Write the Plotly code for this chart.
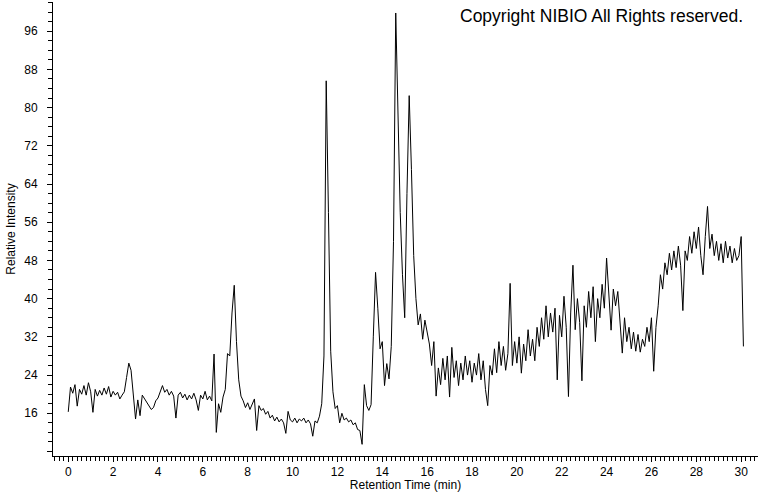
import plotly.graph_objects as go

# Retention time sampling (minutes)
T_START = 0.0
T_STEP = 0.1

# Relative intensity, one row per minute (10 samples each)
intensity = [
    16.3, 21.5, 20.2, 22.0, 17.5, 21.0, 20.0, 21.8, 19.8, 22.4,
    20.5, 16.2, 21.0, 19.6, 20.8, 19.8, 21.3, 20.0, 21.6, 19.4,
    20.6, 19.8, 20.4, 19.0, 19.8, 20.5, 23.5, 26.5, 25.0, 20.0,
    14.8, 18.8, 15.5, 19.8, 19.0, 18.4, 17.6, 16.8, 17.2, 18.6,
    19.2, 20.6, 21.8, 20.4, 21.0, 19.8, 20.6, 19.6, 15.0, 19.8,
    20.4, 19.2, 20.0, 18.8, 19.8, 19.0, 20.2, 18.8, 16.6, 19.8,
    19.0, 20.6, 18.8, 19.6, 18.6, 28.4, 12.0, 18.0, 16.2, 19.4,
    21.0, 28.5, 28.0, 37.0, 42.8, 31.0, 23.0, 19.6, 18.6, 17.2,
    18.2, 16.8, 18.0, 19.0, 12.4, 17.6, 16.6, 17.0, 15.8, 16.4,
    15.0, 15.6, 14.4, 15.2, 14.2, 14.8, 14.0, 11.8, 16.4, 14.6,
    14.2, 15.0, 14.0, 14.8, 14.4, 15.0, 14.0, 14.6, 13.8, 11.2,
    14.4, 14.0, 15.4, 18.0, 28.0, 85.6, 58.0, 29.0, 20.5, 17.0,
    17.6, 14.0, 16.0, 14.6, 15.0, 14.2, 14.6, 13.6, 14.0, 12.6,
    12.4, 9.5, 22.0, 17.6, 16.6, 17.8, 32.0, 45.5, 38.0, 29.5,
    31.0, 21.8, 26.4, 23.2, 30.0, 52.0, 99.8, 79.5, 58.0, 45.0,
    36.0, 62.0, 82.5, 67.0, 49.0, 40.0, 34.5, 36.8, 31.5, 35.5,
    33.0, 30.5, 26.0, 31.0, 19.6, 25.5, 22.0, 27.5, 23.0, 28.0,
    19.4, 29.8, 23.5, 27.0, 21.8, 26.5, 23.0, 28.0, 24.0, 27.0,
    22.5, 26.5, 24.0, 28.5, 23.0, 27.0, 21.0, 17.6, 26.0, 24.0,
    29.5, 24.5, 31.0, 26.0, 30.0, 25.0, 28.5, 43.2, 26.0, 31.0,
    26.5, 32.0, 24.4, 30.5, 27.0, 33.5, 28.0, 31.5, 27.0, 34.0,
    30.0, 36.0, 31.5, 38.5, 32.0, 37.0, 33.0, 38.0, 23.0, 36.5,
    32.0, 40.5, 34.0, 19.5, 37.0, 47.0, 33.5, 40.0, 35.0, 22.8,
    38.5, 34.0, 41.5, 36.0, 42.5, 31.0, 40.0, 36.0, 43.0, 38.0,
    48.5, 41.0, 33.4, 42.0, 38.5, 41.5, 35.0, 28.6, 36.0, 31.0,
    34.0, 29.5, 33.0, 29.0, 32.5, 28.8, 31.5, 30.0, 34.0, 31.0,
    36.0, 24.8, 34.0, 38.5, 45.0, 42.0, 47.5, 45.0, 49.5, 46.0,
    50.0, 46.5, 51.0, 47.0, 37.5, 50.0, 48.0, 53.0, 49.5, 54.0,
    50.5, 55.0, 49.0, 45.0, 53.0, 59.3, 50.5, 53.5, 49.0, 52.0,
    48.0, 51.5, 47.5, 52.0, 48.5, 51.0, 47.5, 50.5, 48.0, 49.0,
    53.0, 30.0,
]

# Axis tick settings (label every 2 min / 8 units, minor every 0.2 min / 2 units)
x_tick_start, x_tick_step, x_minor_step = 0, 2, 0.2
y_tick_start, y_tick_step, y_minor_step = 0, 8, 2
y_hidden_labels = {"8": ""}  # the reference leaves the lowest major tick unlabelled

x_range = [-0.68, 30.75]
y_range = [7.06, 102.1]

x_title = "Retention Time (min)"
y_title = "Relative Intensity"
copyright_text = "Copyright NIBIO All Rights reserved."

FONT = "Liberation Sans, Arial, sans-serif"

fig = go.Figure()
fig.add_trace(go.Scatter(
    x0=T_START, dx=T_STEP, y=intensity,
    mode="lines",
    line=dict(color="black", width=1),
    hoverinfo="skip",
))
# invisible trace that makes the overlay (minor-tick) axes get drawn
fig.add_trace(go.Scatter(
    x=x_range, y=y_range, xaxis="x2", yaxis="y2",
    mode="none", hoverinfo="skip", showlegend=False,
))

axis_common = dict(
    showline=True, linecolor="black", linewidth=1,
    showgrid=False, zeroline=False, automargin=False,
    ticks="outside", tickcolor="black", tickwidth=1, ticklen=5,
    tickfont=dict(family=FONT, size=12, color="black"),
    title_font=dict(family=FONT, size=12, color="black"),
)

minor_common = dict(
    showline=False, showgrid=False, zeroline=False, automargin=False,
    showticklabels=False, ticks="outside", tickcolor="black",
    tickwidth=1, ticklen=4, tickmode="linear", fixedrange=True,
)

fig.update_layout(
    xaxis=dict(
        **axis_common,
        range=x_range,
        tickmode="linear", tick0=x_tick_start, dtick=x_tick_step,
        title=dict(text=x_title, standoff=4),
    ),
    yaxis=dict(
        **axis_common,
        range=y_range,
        tickmode="linear", tick0=y_tick_start, dtick=y_tick_step,
        labelalias=y_hidden_labels,
        ticklabelstandoff=7,
        title=dict(text=y_title, standoff=6),
    ),
    # overlay axes carrying only the minor ticks
    xaxis2=dict(
        **minor_common, overlaying="x", anchor="y2", side="bottom",
        range=x_range, tick0=x_tick_start, dtick=x_minor_step,
    ),
    yaxis2=dict(
        **minor_common, overlaying="y", anchor="x2", side="left",
        range=y_range, tick0=y_tick_start, dtick=y_minor_step,
    ),
)

fig.add_annotation(
    text=copyright_text, xref="paper", yref="paper",
    x=1, y=1, xanchor="right", yanchor="top", xshift=-13, yshift=-2,
    showarrow=False, font=dict(family=FONT, size=17.5, color="black"),
)

fig.update_layout(
    width=760, height=492,
    margin=dict(l=53, r=2, t=2, b=36),
    paper_bgcolor="white", plot_bgcolor="white",
    showlegend=False,
    font=dict(family=FONT, size=12, color="black"),
)

# remove the browser's default page margin so the figure sits at the window origin
page_fix = "document.body.style.margin='0';document.body.style.padding='0';"

fig.write_html("out.html", post_script=page_fix,
               config={"displayModeBar": False, "staticPlot": True})
